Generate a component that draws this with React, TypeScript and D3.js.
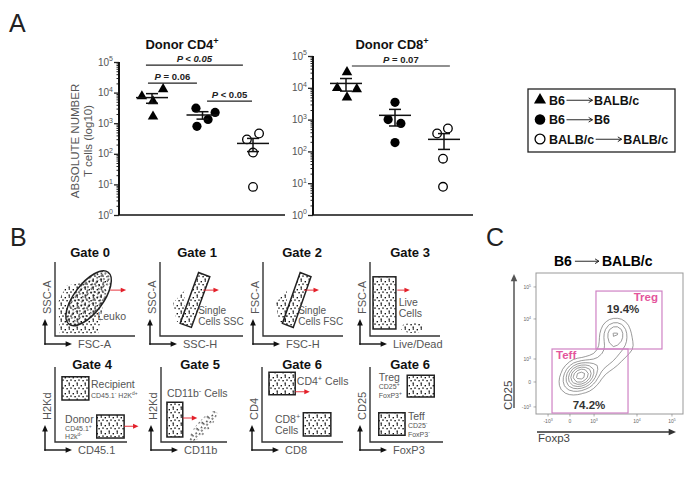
import { useRef, useEffect } from "react";
import * as d3 from "d3";

const W = 700;
const H = 488;
const FONT = "'Liberation Sans', Arial, Helvetica, sans-serif";

// ---- Panel A: absolute numbers of donor T cells (log10) ----
const groups = ["B6→BALB/c", "B6→B6", "BALB/c→BALB/c"];
const cd4Counts = [
  [7600, 13000, 5200, 1660],
  [3100, 2250, 1330, 790],
  [295, 460, 110, 8.3],
];
// horizontal scatter of each point, in category units
const cd4Jitter = [
  [-0.2, 0.22, 0.02, 0.02],
  [-0.13, 0.25, 0.11, -0.11],
  [-0.12, 0.12, 0, 0],
];
const cd8Counts = [
  [31000, 9800, 9100, 5000],
  [3500, 1000, 760, 190],
  [365, 525, 59, 7.7],
];
const cd8Jitter = [
  [0.02, -0.18, 0.22, 0.02],
  [0, -0.14, 0.12, 0],
  [-0.14, 0.08, -0.02, -0.02],
];
const cd4Brackets = [
  { from: -0.12, to: 1.8, level: 79400, op: "< 0.05", allItalic: true },
  { from: -0.08, to: 0.89, level: 20500, op: "= 0.06", allItalic: false },
  { from: 1.09, to: 1.98, level: 5300, op: "< 0.05", allItalic: false },
];
const cd8Brackets = [{ from: 0.12, to: 2.12, level: 48400, op: "= 0.07", allItalic: false }];
const decades = [0, 1, 2, 3, 4, 5];

// ---- Panel B: gating strategy ----
const gateTitles = ["Gate 0", "Gate 1", "Gate 2", "Gate 3", "Gate 4", "Gate 5", "Gate 6", "Gate 6"];
const gateXLabels = ["FSC-A", "SSC-H", "FSC-H", "Live/Dead", "CD45.1", "CD11b", "CD8", "FoxP3"];
const gateYLabels = ["SSC-A", "SSC-A", "FSC-A", "FSC-A", "H2Kd", "H2Kd", "CD4", "CD25"];

// ---- Panel C: CD25 vs Foxp3 (display channels 0-1000) ----
const cTicksX = [
  { label: "-10", exp: "3", v: 82 },
  { label: "0", exp: "", v: 231 },
  { label: "10", exp: "3", v: 395 },
  { label: "10", exp: "4", v: 687 },
  { label: "10", exp: "5", v: 925 },
];
const cTicksY = [
  { label: "10", exp: "5", v: 901 },
  { label: "10", exp: "4", v: 674 },
  { label: "10", exp: "3", v: 390 },
  { label: "0", exp: "", v: 227 },
  { label: "-10", exp: "3", v: 50 },
];
const cGates = [
  { name: "Treg", pct: "19.4%", x: [408, 857], y: [461, 872] },
  { name: "Teff", pct: "74.2%", x: [109, 626], y: [7, 461] },
];
const cCells: [number, number][] = [
  [270, 260], [290, 275], [305, 285], [285, 255], [315, 270], [300, 295], [260, 240],
  [330, 295], [275, 280], [320, 250], [245, 235], [345, 310], [295, 265], [335, 280],
  [230, 215], [205, 185], [365, 300], [390, 330], [415, 355], [445, 375], [375, 275],
  [255, 275], [480, 400], [515, 420], [560, 445], [610, 470], [665, 480], [465, 355],
  [530, 395], [310, 230], [280, 300], [350, 260],
  [505, 510], [530, 550], [550, 585], [525, 610], [545, 535],
  [570, 570], [515, 580], [485, 475], [580, 600], [540, 600], [520, 560],
];

type Part = string | [string];
type Shape =
  | { kind: "rect"; u: [number, number]; v: [number, number]; cloud?: boolean }
  | { kind: "poly"; pts: [number, number][]; cloud?: boolean }
  | { kind: "ellipse"; c: [number, number]; r: [number, number]; rot: number; cloud?: boolean };

const gatePanels = [
  { x0: 55, yb: 336, w: 80, h: 74, tx: 90, ty: 257 },
  { x0: 160, yb: 336, w: 83, h: 74, tx: 197, ty: 257 },
  { x0: 263, yb: 336, w: 80, h: 74, tx: 302, ty: 257 },
  { x0: 370, yb: 336, w: 70, h: 74, tx: 410, ty: 257 },
  { x0: 55, yb: 442, w: 72, h: 75, tx: 92, ty: 369 },
  { x0: 161, yb: 442, w: 66, h: 75, tx: 200, ty: 369 },
  { x0: 262, yb: 442, w: 81, h: 75, tx: 302, ty: 369 },
  { x0: 370, yb: 442, w: 73, h: 75, tx: 410, ty: 369 },
];

const singletGate: [number, number][] = [[0.6, 0.8], [0.465, 0.857], [0.243, 0.17], [0.378, 0.116]];
const gateShapes: Shape[][] = [
  [
    { kind: "poly", cloud: true, pts: [[0.04, 0.46], [0.14, 0.68], [0.375, 0.73], [0.56, 0.865], [0.66, 0.82], [0.61, 0.49], [0.54, 0.03], [0.06, 0.03]] },
    { kind: "ellipse", c: [0.42, 0.51], r: [0.18, 0.44], rot: 37 },
  ],
  [
    { kind: "poly", cloud: true, pts: [[0.16, 0.45], [0.3, 0.62], [0.3, 0.14], [0.2, 0.2]] },
    { kind: "poly", pts: singletGate },
  ],
  [
    { kind: "poly", cloud: true, pts: [[0.16, 0.45], [0.3, 0.62], [0.3, 0.14], [0.2, 0.2]] },
    { kind: "poly", pts: singletGate },
  ],
  [
    { kind: "rect", u: [0.043, 0.37], v: [0.095, 0.8] },
    { kind: "ellipse", cloud: true, c: [0.61, 0.11], r: [0.17, 0.07], rot: 0 },
  ],
  [
    { kind: "rect", u: [0.097, 0.47], v: [0.56, 0.87] },
    { kind: "rect", u: [0.58, 0.96], v: [0.053, 0.36] },
  ],
  [
    { kind: "ellipse", cloud: true, c: [0.64, 0.21], r: [0.3, 0.08], rot: -48 },
    { kind: "rect", u: [0.09, 0.33], v: [0.067, 0.53] },
  ],
  [
    { kind: "rect", u: [0.086, 0.41], v: [0.63, 0.93] },
    { kind: "rect", u: [0.51, 0.85], v: [0.08, 0.39] },
  ],
  [
    { kind: "rect", u: [0.51, 0.88], v: [0.6, 0.89] },
    { kind: "rect", u: [0.12, 0.48], v: [0.09, 0.39] },
  ],
];
const gateArrows = [
  { u: [0.69, 0.89], v: 0.62 },
  { u: [0.52, 0.71], v: 0.62 },
  { u: [0.51, 0.7], v: 0.62 },
  { u: [0.39, 0.57], v: 0.62 },
  { u: [0.96, 1.16], v: 0.21 },
  { u: [0.33, 0.55], v: 0.32 },
  { u: [0.41, 0.59], v: 0.67 },
];
const gateArrowPanel = [0, 1, 2, 3, 4, 5, 6];
const gateLabels: { parts: Part[]; u: number; v: number; size: number; panel: number }[] = [
  { panel: 0, parts: ["Leuko"], u: 0.53, v: 0.22, size: 10.5 },
  { panel: 1, parts: ["Single"], u: 0.46, v: 0.3, size: 10 },
  { panel: 1, parts: ["Cells SSC"], u: 0.46, v: 0.15, size: 10 },
  { panel: 2, parts: ["Single"], u: 0.44, v: 0.3, size: 10 },
  { panel: 2, parts: ["Cells FSC"], u: 0.44, v: 0.15, size: 10 },
  { panel: 3, parts: ["Live"], u: 0.41, v: 0.41, size: 10.5 },
  { panel: 3, parts: ["Cells"], u: 0.41, v: 0.26, size: 10.5 },
  { panel: 4, parts: ["Recipient"], u: 0.5, v: 0.72, size: 10.5 },
  { panel: 4, parts: ["CD45.1", ["-"], " H2K", ["d+"]], u: 0.5, v: 0.59, size: 7 },
  { panel: 4, parts: ["Donor"], u: 0.14, v: 0.26, size: 10.5 },
  { panel: 4, parts: ["CD45.1", ["+"]], u: 0.14, v: 0.145, size: 7 },
  { panel: 4, parts: ["H2k", ["d-"]], u: 0.14, v: 0.035, size: 7 },
  { panel: 5, parts: ["CD11b", ["-"], " Cells"], u: 0.09, v: 0.6, size: 10.5 },
  { panel: 6, parts: ["CD4", ["+"], " Cells"], u: 0.43, v: 0.76, size: 10.5 },
  { panel: 6, parts: ["CD8", ["+"]], u: 0.16, v: 0.25, size: 10.5 },
  { panel: 6, parts: ["Cells"], u: 0.16, v: 0.11, size: 10.5 },
  { panel: 7, parts: ["Treg"], u: 0.12, v: 0.82, size: 10.5 },
  { panel: 7, parts: ["CD25", ["+"]], u: 0.12, v: 0.705, size: 7 },
  { panel: 7, parts: ["FoxP3", ["+"]], u: 0.12, v: 0.59, size: 7 },
  { panel: 7, parts: ["Teff"], u: 0.52, v: 0.3, size: 10.5 },
  { panel: 7, parts: ["CD25", ["-"]], u: 0.52, v: 0.185, size: 7 },
  { panel: 7, parts: ["FoxP3", ["-"]], u: 0.52, v: 0.07, size: 7 },
];

function rich(g: any, x: number, y: number, parts: Part[], size: number) {
  const t = g.append("text").attr("x", x).attr("y", y).attr("font-size", size);
  let up = false;
  parts.forEach((p) => {
    const sup = Array.isArray(p);
    const s = t.append("tspan").text(sup ? p[0] : p);
    if (sup) {
      s.attr("font-size", size * 0.7);
      if (!up) s.attr("dy", -size * 0.42);
      up = true;
    } else if (up) {
      s.attr("dy", size * 0.42);
      up = false;
    }
  });
  return t;
}

function drawArrow(g: any, x1: number, y1: number, x2: number, y2: number, color: string, width: number, head: number, filled = true) {
  const ang = Math.atan2(y2 - y1, x2 - x1);
  const spread = filled ? 0.42 : 0.55;
  const hx = (a: number) => x2 - head * Math.cos(ang + a);
  const hy = (a: number) => y2 - head * Math.sin(ang + a);
  const back = filled ? head * 0.7 : 0;
  g.append("line")
    .attr("x1", x1).attr("y1", y1)
    .attr("x2", x2 - back * Math.cos(ang)).attr("y2", y2 - back * Math.sin(ang))
    .attr("stroke", color).attr("stroke-width", width);
  if (filled) {
    g.append("path")
      .attr("d", `M${x2},${y2}L${hx(spread)},${hy(spread)}L${hx(-spread)},${hy(-spread)}Z`)
      .attr("fill", color);
  } else {
    g.append("path")
      .attr("d", `M${hx(spread)},${hy(spread)}L${x2},${y2}L${hx(-spread)},${hy(-spread)}`)
      .attr("fill", "none").attr("stroke", color).attr("stroke-width", width);
  }
}

function arrowText(g: any, x: number, y: number, left: string, right: string, size: number, len: number, gap: number) {
  const t1 = g.append("text").attr("x", x).attr("y", y).attr("font-size", size).attr("font-weight", "bold").text(left);
  const w1 = (t1.node() as SVGTextElement).getComputedTextLength();
  const ay = y - size * 0.34;
  drawArrow(g, x + w1 + gap, ay, x + w1 + gap + len, ay, "#111", 0.9, 4.5, false);
  g.append("text").attr("x", x + w1 + 2 * gap + len).attr("y", y)
    .attr("font-size", size).attr("font-weight", "bold").text(right);
}

function symbolFor(g: any, i: number, cx: number, cy: number, scale = 1) {
  if (i === 0) {
    g.append("path")
      .attr("d", d3.symbol(d3.symbolTriangle, 48 * scale * scale)())
      .attr("transform", `translate(${cx},${cy})`)
      .attr("fill", "#000");
  } else {
    g.append("circle").attr("cx", cx).attr("cy", cy)
      .attr("r", (i === 1 ? 4.6 : 4.3) * scale)
      .attr("fill", i === 1 ? "#000" : "#fff")
      .attr("stroke", "#000").attr("stroke-width", i === 1 ? 0 : 1.3);
  }
}

export default function App() {
  const ref = useRef<SVGSVGElement | null>(null);

  useEffect(() => {
    const svg = d3.select(ref.current);
    svg.selectAll("*").remove();
    svg.attr("width", W).attr("height", H).attr("viewBox", `0 0 ${W} ${H}`)
      .style("font-family", FONT).style("background", "#fff");

    const defs = svg.append("defs");
    const pat = defs.append("pattern").attr("id", "dots")
      .attr("width", 8).attr("height", 8).attr("patternUnits", "userSpaceOnUse");
    [[0.6, 1.0], [4.6, 0.3], [2.4, 4.0], [6.3, 3.4], [4.5, 6.5]].forEach(([x, y]) =>
      pat.append("rect").attr("x", x).attr("y", y).attr("width", 1.4).attr("height", 1.4).attr("fill", "#111")
    );

    // panel letters
    [["A", 9, 32], ["B", 10, 246], ["C", 486, 246]].forEach(([s, x, y]) =>
      svg.append("text").attr("x", x).attr("y", y).attr("font-size", 25).attr("fill", "#222").text(s as string)
    );

    // ---- Panel A ----
    const plotA = [
      { title: "Donor CD4", titleX: 182, x0: 119, x1: 285, yTop: 62, yBot: 215, centers: [152, 253], counts: cd4Counts, jitter: cd4Jitter, brackets: cd4Brackets },
      { title: "Donor CD8", titleX: 392, x0: 313, x1: 473, yTop: 56, yBot: 215, centers: [346, 444], counts: cd8Counts, jitter: cd8Jitter, brackets: cd8Brackets },
    ];
    const minor = decades.slice(0, 5).flatMap((e) => d3.range(2, 10).map((m) => m * 10 ** e));

    plotA.forEach((cfg) => {
      const g = svg.append("g");
      const y = d3.scaleLog().domain([1, 1e5]).range([cfg.yBot, cfg.yTop]);
      const x = d3.scaleLinear().domain([0, 2]).range(cfg.centers);

      g.append("g").attr("transform", `translate(${cfg.x0},0)`).attr("color", "#222")
        .call(d3.axisLeft(y).tickValues(minor).tickSize(2.5).tickSizeOuter(0).tickFormat(() => ""))
        .call((a: any) => a.select(".domain").remove());
      g.append("g").attr("transform", `translate(${cfg.x0},0)`).attr("color", "#222")
        .call(d3.axisLeft(y).tickValues(decades.map((e) => 10 ** e)).tickSize(5).tickSizeOuter(0).tickFormat(() => ""))
        .call((a: any) => a.select(".domain").remove())
        .call((a: any) => a.selectAll("line").attr("stroke-width", 1.3));
      g.append("line").attr("x1", cfg.x0).attr("x2", cfg.x0).attr("y1", cfg.yBot).attr("y2", cfg.yTop)
        .attr("stroke", "#111").attr("stroke-width", 2);
      g.append("line").attr("x1", cfg.x0).attr("x2", cfg.x1).attr("y1", cfg.yBot).attr("y2", cfg.yBot)
        .attr("stroke", "#111").attr("stroke-width", 1.6);

      decades.forEach((e) => {
        rich(g, cfg.x0 - 6, y(10 ** e) + 3.5, ["10", [String(e)]], 10)
          .attr("text-anchor", "end").attr("fill", "#555");
      });

      rich(g, cfg.titleX, 49, [cfg.title, ["+"]], 13)
        .attr("text-anchor", "middle").attr("font-weight", "bold").attr("fill", "#111");

      cfg.brackets.forEach((b) => {
        const by = y(b.level);
        g.append("line").attr("x1", x(b.from)).attr("x2", x(b.to)).attr("y1", by).attr("y2", by)
          .attr("stroke", "#222").attr("stroke-width", 1.2);
        const t = g.append("text").attr("x", (x(b.from) + x(b.to)) / 2).attr("y", by - 3)
          .attr("text-anchor", "middle").attr("font-size", 9.5).attr("font-weight", "bold").attr("fill", "#222");
        t.append("tspan").attr("font-style", "italic").text("P");
        t.append("tspan").attr("font-style", b.allItalic ? "italic" : "normal").text(" " + b.op);
      });

      cfg.counts.forEach((vals, i) => {
        const mean = d3.mean(vals) as number;
        const sem = (d3.deviation(vals) as number) / Math.sqrt(vals.length);
        const cx = x(i);
        const ln = (x1: number, y1: number, x2: number, y2: number) =>
          g.append("line").attr("x1", x1).attr("y1", y1).attr("x2", x2).attr("y2", y2)
            .attr("stroke", "#111").attr("stroke-width", 1.5);
        vals.forEach((v, j) => symbolFor(g, i, x(i + cfg.jitter[i][j]), y(v)));
        ln(cx - 16, y(mean), cx + 16, y(mean));
        ln(cx, y(mean - sem), cx, y(mean + sem));
        ln(cx - 6, y(mean - sem), cx + 6, y(mean - sem));
        ln(cx - 6, y(mean + sem), cx + 6, y(mean + sem));
      });
    });

    // y axis title of panel A
    const yl = svg.append("g").attr("fill", "#555").attr("font-size", 11.5).attr("text-anchor", "middle");
    yl.append("text").attr("transform", "translate(79,141) rotate(-90)").text("ABSOLUTE NUMBER");
    yl.append("text").attr("transform", "translate(92,141) rotate(-90)").text("T cells (log10)");

    // legend
    const lg = svg.append("g").attr("fill", "#111");
    lg.append("rect").attr("x", 528).attr("y", 89).attr("width", 147).attr("height", 63)
      .attr("fill", "none").attr("stroke", "#222").attr("stroke-width", 1.3);
    groups.forEach((name, i) => {
      const [left, right] = name.split("→");
      const ry = 100 + i * 19.5;
      symbolFor(lg, i, 540, ry, 1.15);
      arrowText(lg, 549, ry + 4.5, left, right, 12.5, 26, 1.5);
    });

    // ---- Panel B ----
    gatePanels.forEach((p, i) => {
      const g = svg.append("g");
      const sx = d3.scaleLinear().domain([0, 1]).range([p.x0, p.x0 + p.w]);
      const sy = d3.scaleLinear().domain([0, 1]).range([p.yb, p.yb - p.h]);

      g.append("text").attr("x", p.tx).attr("y", p.ty).attr("text-anchor", "middle")
        .attr("font-size", 13).attr("font-weight", "bold").attr("fill", "#111").text(gateTitles[i]);
      g.append("path").attr("d", `M${p.x0},${p.yb - p.h}V${p.yb}H${p.x0 + p.w}`)
        .attr("fill", "none").attr("stroke", "#333").attr("stroke-width", 1.4);

      const cx = p.x0 - 10;
      const cy = p.yb + 8;
      drawArrow(g, cx, cy + 0.7, cx, p.yb - 17, "#111", 1.4, 7);
      drawArrow(g, cx - 0.7, cy, p.x0 + 17, cy, "#111", 1.4, 7);
      g.append("text").attr("transform", `translate(${p.x0 - 4},${p.yb - 22}) rotate(-90)`)
        .attr("font-size", 11).attr("fill", "#555").text(gateYLabels[i]);
      g.append("text").attr("x", p.x0 + 23).attr("y", p.yb + 12)
        .attr("font-size", 11).attr("fill", "#555").text(gateXLabels[i]);

      gateShapes[i].forEach((s) => {
        let el: any;
        if (s.kind === "rect") {
          el = g.append("rect").attr("x", sx(s.u[0])).attr("y", sy(s.v[1]))
            .attr("width", sx(s.u[1]) - sx(s.u[0])).attr("height", sy(s.v[0]) - sy(s.v[1]));
        } else if (s.kind === "poly") {
          el = g.append("path").attr("d", d3.line()(s.pts.map(([u, v]) => [sx(u), sy(v)])) + "Z");
        } else {
          el = g.append("ellipse").attr("cx", sx(s.c[0])).attr("cy", sy(s.c[1]))
            .attr("rx", s.r[0] * p.w).attr("ry", s.r[1] * p.h)
            .attr("transform", `rotate(${s.rot},${sx(s.c[0])},${sy(s.c[1])})`);
        }
        el.attr("fill", "url(#dots)");
        if (!s.cloud) el.attr("stroke", "#222").attr("stroke-width", 1.5);
      });

      const ai = gateArrowPanel.indexOf(i);
      if (ai >= 0) {
        const a = gateArrows[ai];
        drawArrow(g, sx(a.u[0]), sy(a.v), sx(a.u[1]), sy(a.v), "#e3202a", 0.9, 6);
      }
      gateLabels.filter((l) => l.panel === i).forEach((l) =>
        rich(g, sx(l.u), sy(l.v), l.parts, l.size).attr("fill", "#555")
      );
    });

    // ---- Panel C ----
    const gc = svg.append("g");
    const xC = d3.scaleLinear().domain([0, 1000]).range([536, 683]);
    const yC = d3.scaleLinear().domain([0, 1000]).range([414, 273]);
    arrowText(gc, 554, 266, "B6", "BALB/c", 14, 24, 3);
    gc.append("rect").attr("x", xC(0)).attr("y", yC(1000)).attr("width", xC(1000) - xC(0))
      .attr("height", yC(0) - yC(1000)).attr("fill", "none").attr("stroke", "#999").attr("stroke-width", 1);

    cTicksX.forEach((t) => {
      gc.append("line").attr("x1", xC(t.v)).attr("x2", xC(t.v)).attr("y1", yC(0)).attr("y2", yC(0) + 2.5)
        .attr("stroke", "#777").attr("stroke-width", 0.6);
      rich(gc, xC(t.v), yC(0) + 9, t.exp ? [t.label, [t.exp]] : [t.label], 5)
        .attr("text-anchor", "middle").attr("fill", "#666");
    });
    cTicksY.forEach((t) => {
      gc.append("line").attr("x1", xC(0)).attr("x2", xC(0) - 2.5).attr("y1", yC(t.v)).attr("y2", yC(t.v))
        .attr("stroke", "#777").attr("stroke-width", 0.6);
      rich(gc, xC(0) - 5, yC(t.v) + 2, t.exp ? [t.label, [t.exp]] : [t.label], 5)
        .attr("text-anchor", "end").attr("fill", "#666");
    });

    const contours = d3.contourDensity<[number, number]>()
      .x((d) => xC(d[0])).y((d) => yC(d[1]))
      .size([W, H]).bandwidth(6).thresholds(11)(cCells);
    gc.append("g").selectAll("path").data(contours).join("path")
      .attr("d", d3.geoPath()).attr("fill", "none").attr("stroke", "#555").attr("stroke-width", 0.6);

    cGates.forEach((gt, i) => {
      gc.append("rect").attr("x", xC(gt.x[0])).attr("y", yC(gt.y[1]))
        .attr("width", xC(gt.x[1]) - xC(gt.x[0])).attr("height", yC(gt.y[0]) - yC(gt.y[1]))
        .attr("fill", "none").attr("stroke", "#cf82c4").attr("stroke-width", 1.2);
      const lt = gc.append("text").attr("font-size", 11.5).attr("font-weight", "bold").attr("fill", "#e4559c").text(gt.name);
      const pt = gc.append("text").attr("font-size", 11.5).attr("font-weight", "bold").attr("fill", "#333")
        .attr("text-anchor", "middle").text(gt.pct);
      if (i === 0) {
        lt.attr("x", xC(gt.x[1]) - 4).attr("y", yC(gt.y[1]) + 10).attr("text-anchor", "end");
        pt.attr("x", 623).attr("y", yC(gt.y[1]) + 22);
      } else {
        lt.attr("x", xC(gt.x[0]) + 4).attr("y", yC(gt.y[1]) + 10);
        pt.attr("x", 589).attr("y", yC(gt.y[0]) - 4);
      }
    });

    drawArrow(gc, 514, 408, 514, 274, "#555", 1.5, 8);
    drawArrow(gc, 537, 432, 676, 432, "#333", 1.5, 8);
    gc.append("text").attr("transform", "translate(512,410) rotate(-90)")
      .attr("font-size", 11.5).attr("fill", "#444").text("CD25");
    gc.append("text").attr("x", 538).attr("y", 442).attr("font-size", 11.5).attr("fill", "#444").text("Foxp3");
  }, []);

  return <svg ref={ref} style={{ position: "absolute", left: 0, top: 0 }} />;
}
